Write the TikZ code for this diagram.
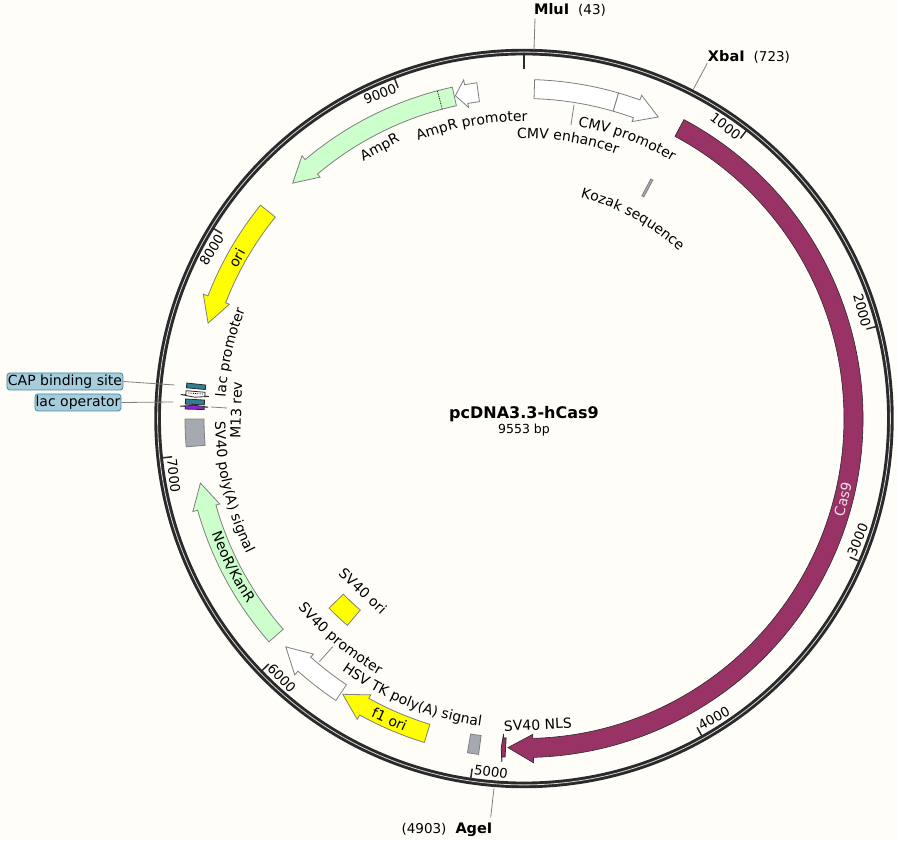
\documentclass[tikz,border=0pt]{standalone}
\usepackage{fontspec}
\setmainfont{DejaVu Sans}
\usepackage{tikz}
\usetikzlibrary{decorations.text}

\definecolor{paper}{HTML}{FFFDF7}
\definecolor{ringdark}{HTML}{2A2A2A}
\definecolor{featline}{HTML}{7F7F7F}
\definecolor{casfill}{HTML}{993366}
\definecolor{resfill}{HTML}{CCFFCC}
\definecolor{orifill}{HTML}{FFFF00}
\definecolor{polyfill}{HTML}{A6A9B2}
\definecolor{tealfill}{HTML}{2F7F97}
\definecolor{m13fill}{HTML}{8A2BC8}
\definecolor{tagfill}{HTML}{A6CDDC}
\definecolor{tagline}{HTML}{3F88A3}

\newcommand{\lblfont}{\fontsize{14}{16}\selectfont}

\tikzset{
    feat/.style={draw=featline, line width=0.8pt, fill=#1},
    leader/.style={draw=featline, line width=0.8pt},
    tickline/.style={draw=ringdark, line width=1.5pt},
    ticktext/.style={font=\fontsize{13.3}{15}\selectfont, inner xsep=2pt, inner ysep=0pt},
    label/.style={font=\lblfont, inner sep=0pt},
    site/.style={font=\fontsize{13.5}{15}\selectfont, inner sep=0pt},
    tag/.style={font=\lblfont, draw=tagline, fill=tagfill, rounded corners=3pt, line width=0.8pt, inner sep=0pt, minimum height=17pt}
}

% start angle, head base, tip (clock angles), band 320..339
\newcommand{\featarrow}[4]{
    \draw[#1] ({90-#2}:339) arc[start angle={90-#2}, end angle={90-#3}, radius=339] -- ({90-#3}:344) -- ({90-#4}:330) -- ({90-#3}:316) -- ({90-#3}:320) arc[start angle={90-#3}, end angle={90-#2}, radius=320] -- cycle;
}
\newcommand{\featband}[5]{
    \draw[#1] ({90-#2}:#5) arc[start angle={90-#2}, end angle={90-#3}, radius=#5] -- ({90-#3}:#4) arc[start angle={90-#3}, end angle={90-#2}, radius=#4] -- cycle;
}
% curved labels: text, centre angle, centre radius
\newcommand{\toplabel}[3]{
    \path[decorate, decoration={text along path, text align=center, text={|\lblfont|#1}}] ({130-#2}:{#3-3.8}) arc[start angle={130-#2}, end angle={50-#2}, radius={#3-3.8}];
}
\newcommand{\botlabel}[3]{
    \path[decorate, decoration={text along path, text align=center, text={|\lblfont|#1}}] ({50-#2}:{#3+3.8}) arc[start angle={50-#2}, end angle={130-#2}, radius={#3+3.8}];
}

\begin{document}
\begin{tikzpicture}[x=1pt, y=1pt]
    \useasboundingbox (-524,418.5) rectangle (374,-422.5);
    \fill[paper] (-524,418.5) rectangle (374,-422.5);

    % backbone
    \draw[ringdark, line width=6.6pt] (0,0) circle (366.4);
    \draw[white!85!black, line width=0.8pt] (0,0) circle (366.4);
    \draw[ringdark, line width=2.8pt] (90:349) -- (90:365);

    \foreach \pos/\rot/\anc in {1000/-37.7/east, 2000/-75.4/east, 3000/67/west, 4000/29.3/west, 5000/-8.4/west, 6000/-46.1/west, 7000/-83.8/west, 8000/58.5/east, 9000/20.9/east} {
        \pgfmathsetmacro\ang{\pos/9553*360}
        \draw[tickline] ({90-\ang}:354) -- ({90-\ang}:364);
        \node[ticktext, anchor=\anc, rotate=\rot] (tick\pos) at ({90-\ang}:354.5) {\pos};
    }

    % features
    \featband{feat=white}{1.8}{16.2}{320}{339}
    \featarrow{feat=white}{16.2}{20}{24}
    \featband{feat=polyfill}{27.9}{28.4}{252}{271}
    \draw[draw=ringdark, line width=0.6pt, fill=casfill] ({90-28.15}:339) arc[start angle={90-28.15}, end angle={90-178.4}, radius=339] -- ({90-178.4}:344.5) -- ({90-182.8}:329.5) -- ({90-178.4}:316) -- ({90-178.4}:320) arc[start angle={90-178.4}, end angle={90-28.15}, radius=320] -- cycle;
    \featarrow{feat=casfill, draw=ringdark}{183.2}{183.7}{183.95}
    \featband{feat=polyfill}{187.7}{189.6}{320}{339}
    \featarrow{feat=orifill}{197.1}{209}{213.3}
    \featarrow{feat=white}{213.7}{221.8}{226.2}
    \featband{feat=orifill}{220.5}{225.8}{252}{272}
    \featarrow{feat=resfill}{228.8}{254.3}{258.7}
    \featband{feat=polyfill}{265.2}{269.9}{320}{339}
    \featarrow{feat=m13fill, draw=ringdark}{271.6}{272.05}{272.3}
    \featband{feat=tealfill, draw=ringdark}{272.44}{273.3}{320}{339}
    \featarrow{feat=white, draw=ringdark}{274.7}{274}{273.7}
    \draw[densely dotted, line width=0.8pt] ({90-274.35}:322) -- ({90-274.35}:337);
    \featband{feat=tealfill, draw=ringdark}{275.2}{276}{320}{339}
    \featarrow{feat=orifill}{309}{291.2}{286.8}
    \featarrow{feat=resfill}{347.8}{319.8}{315.5}
    \draw[densely dotted, line width=0.8pt] ({90-345.2}:320) -- ({90-345.2}:339);
    \featarrow{feat=white}{352}{349.9}{348}

    % feature labels
    \toplabel{CMV enhancer}{9}{284}
    \toplabel{CMV promoter}{20.2}{301}
    \toplabel{Kozak sequence}{28.6}{232}
    \toplabel{AmpR promoter}{349.9}{301}
    \toplabel{lac promoter}{282.7}{303}
    \botlabel{SV40 poly(A) signal}{256.7}{305}
    \botlabel{NeoR/KanR}{243}{329}
    \botlabel{SV40 promoter}{219.8}{291}
    \botlabel{HSV TK poly(A) signal}{201.9}{307}
    \node[label, rotate=75.8] (cas) at ({90-104.2}:329) {\textcolor{casfill!15!white}{Cas9}};
    \node[label, rotate=2.6] (nls) at ({90-177.4}:306.5) {SV40 NLS};
    \node[label, rotate=-24.1] (fone) at ({90-204.1}:329.6) {f1 ori};
    \node[label, rotate=-43] (svori) at ({90-223}:236) {SV40 ori};
    \node[label, rotate=88.3] (mrev) at ({90-271.7}:288) {M13 rev};
    \node[label, rotate=60.8] (ori) at ({90-299.2}:329) {ori};
    \node[label, rotate=28] (amp) at ({90-332}:306.4) {AmpR};

    % leaders
    \coordinate (enhfeat) at (50,313.5);
    \coordinate (enhtext) at (47,293.5);
    \draw[leader] (enhfeat) -- (enhtext);
    \coordinate (prmfeat) at (-204.7,-243.2);
    \coordinate (prmtext) at (-191.3,-228.2);
    \draw[leader] (prmfeat) -- (prmtext);
    \coordinate (mfeat) at (-313,11.5);
    \coordinate (mtext) at (-297,10.5);
    \draw[leader] (mfeat) -- (mtext);

    % callouts
    \node[tag, minimum width=116pt] (cap) at (-459,37) {CAP binding site};
    \node[tag, minimum width=86pt] (oper) at (-446,16) {lac operator};
    \coordinate (capfeat) at (-349.7,33.5);
    \coordinate (operfeat) at (-350.7,16.5);
    \draw[leader] (cap.east) -- (capfeat);
    \draw[leader] (oper.east) -- (operfeat);

    % sites
    \node[site] (mlui) at (46,408.5) {\textbf{\fontsize{14.5}{16}\selectfont MluI}\hspace{9pt}(43)};
    \node[site] (xba) at (225,362) {\textbf{\fontsize{14.5}{16}\selectfont XbaI}\hspace{9pt}(723)};
    \node[site] (age) at (-77,-411.5) {(4903)\hspace{9pt}\textbf{\fontsize{14.5}{16}\selectfont AgeI}};
    \coordinate (mluiring) at (10,368.5);
    \coordinate (mluitext) at (11,400);
    \draw[leader] (mluiring) -- (mluitext);
    \coordinate (xbaring) at (169.3,329.2);
    \coordinate (xbatext) at (183.3,355.2);
    \draw[leader] (xbaring) -- (xbatext);
    \coordinate (agering) at (-30,-369.8);
    \coordinate (agetext) at (-33.3,-398.8);
    \draw[leader] (agering) -- (agetext);

    % name in the middle
    \node[inner sep=0pt, font=\bfseries\fontsize{16}{18}\selectfont] (title) at (0,4.5) {pcDNA3.3-hCas9};
    \node[inner sep=0pt, font=\fontsize{12.5}{14}\selectfont] (size) at (0,-11.5) {9553 bp};
\end{tikzpicture}
\end{document}
